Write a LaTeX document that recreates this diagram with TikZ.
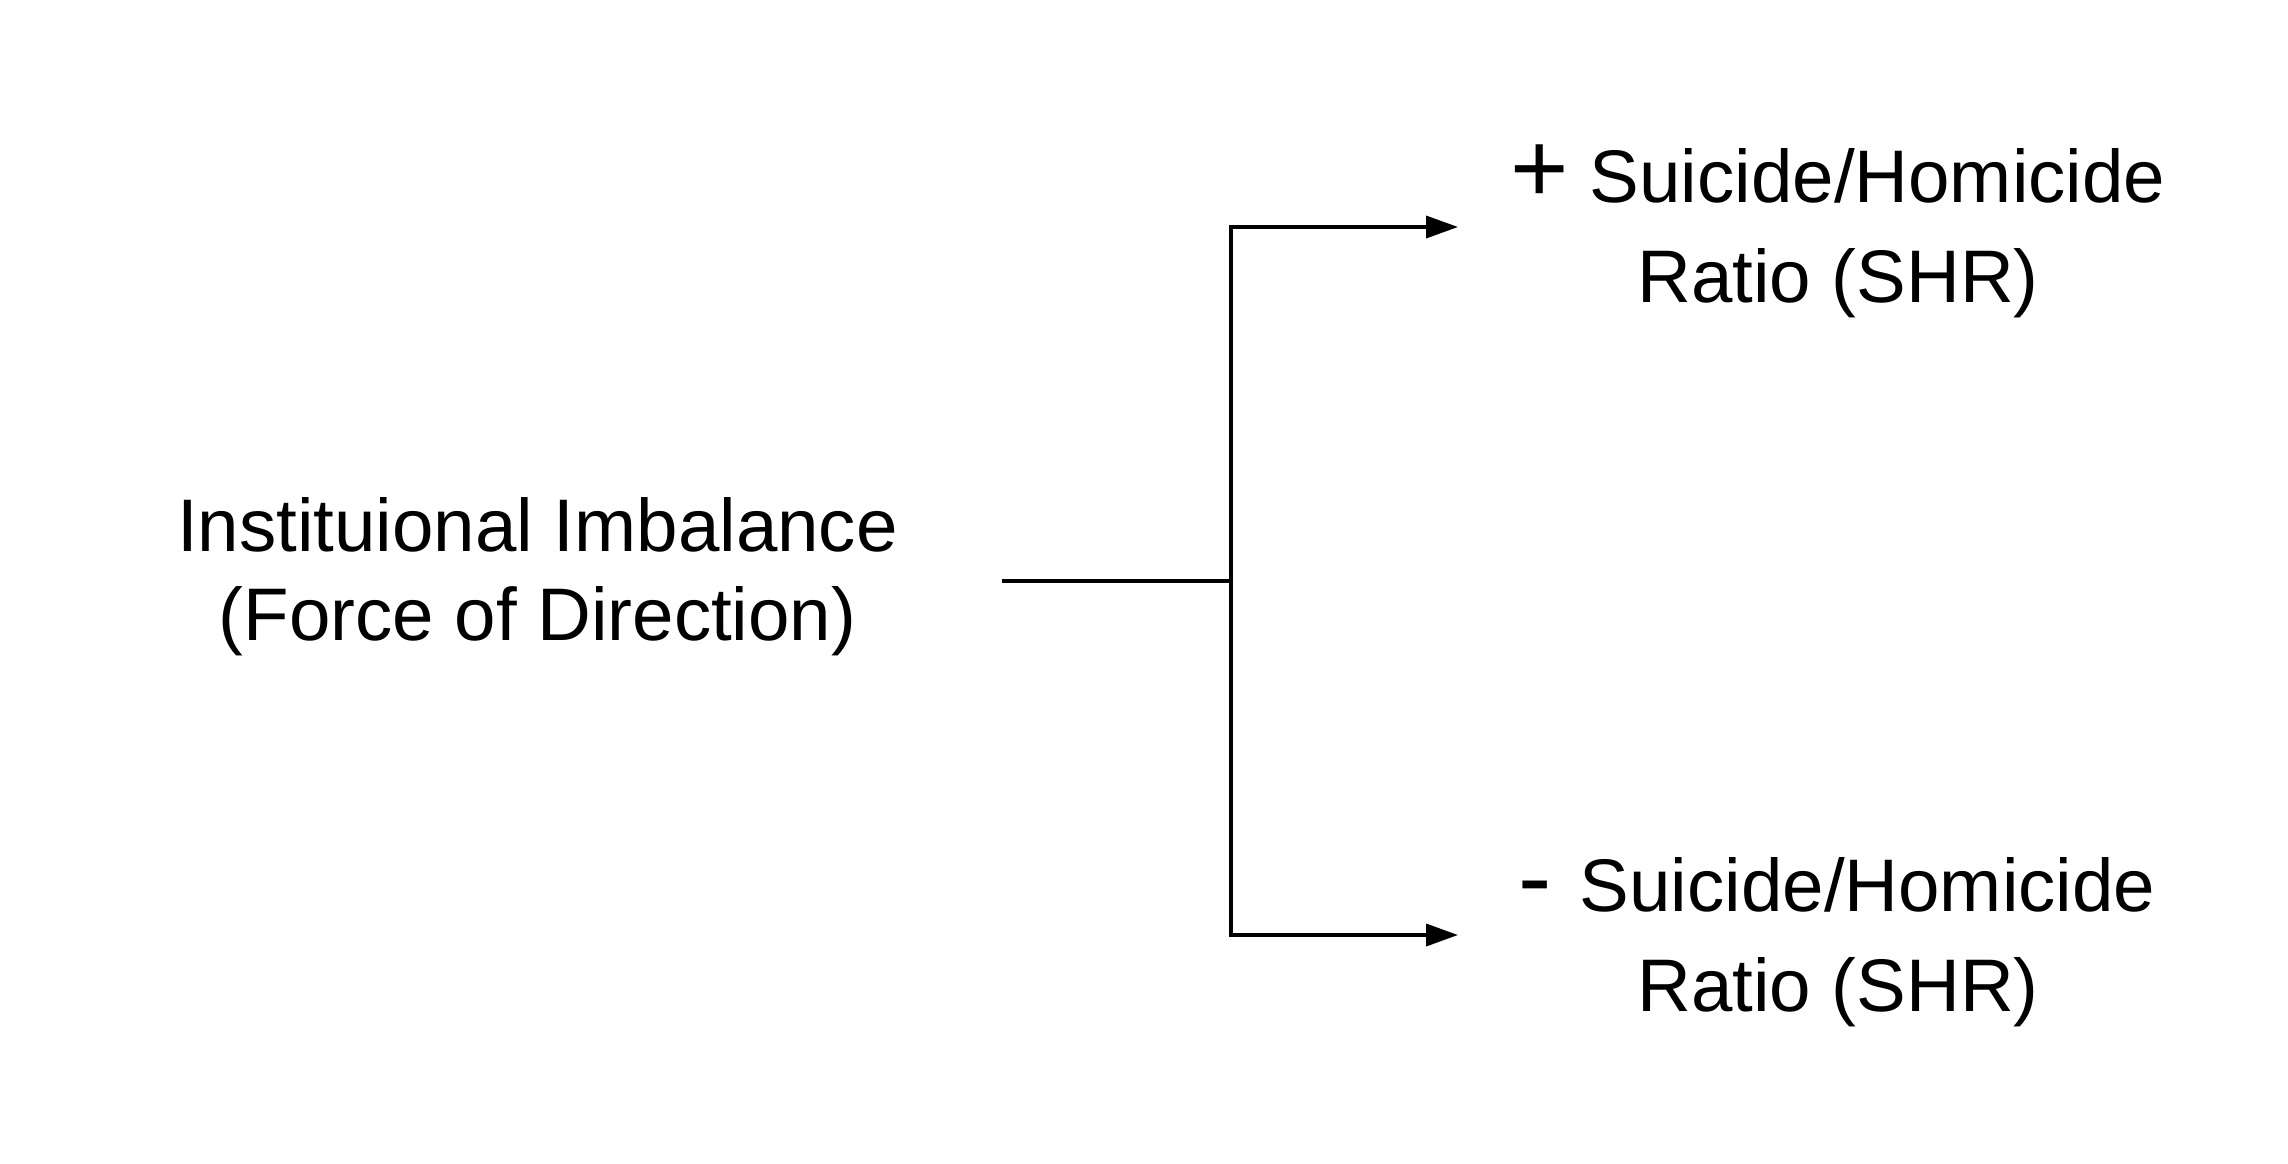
\documentclass[tikz,border=0pt]{standalone}
\usepackage{fontspec}
\setmainfont{Liberation Sans}
\newfontfamily\labelfont{Liberation Sans}
\usetikzlibrary{arrows.meta}
\newcommand{\bigsym}[1]{{\fontsize{100pt}{100pt}\selectfont #1}}
\begin{document}
\begin{tikzpicture}[x=1pt,y=-1pt,
  conn/.style={line width=3.6pt, line join=miter, black},
  arr/.style={conn, -{Triangle[length=32pt,width=22pt]}},
  txt/.style={inner sep=0pt, anchor=base, font=\labelfont\fontsize{74.5pt}{90pt}\selectfont},
]
\fill[white] (0,0) rectangle (2288,1163);
\useasboundingbox (0,0) rectangle (2288,1163);
\node[txt] (l1) at (537.5,551.7) {Instituional Imbalance};
\node[txt] (l2) at (537.5,640.7) {(Force of Direction)};
\node[txt] (p1) at (1838,202) {\bigsym{+} Suicide/Homicide};
\node[txt] (p2) at (1838,302) {Ratio (SHR)};
\node[txt] (m1) at (1837,911.7) {\bigsym{- }Suicide/Homicide};
\node[txt] (m2) at (1838,1011.7) {Ratio (SHR)};
\coordinate (src) at (1002,581);
\coordinate (jn) at (1231,581);
\coordinate (t1) at (1458,227);
\coordinate (t2) at (1458,935);
\draw[conn] (src) -- (jn);
\draw[arr] (jn) |- (t1);
\draw[arr] (jn) |- (t2);
\end{tikzpicture}
\end{document}
